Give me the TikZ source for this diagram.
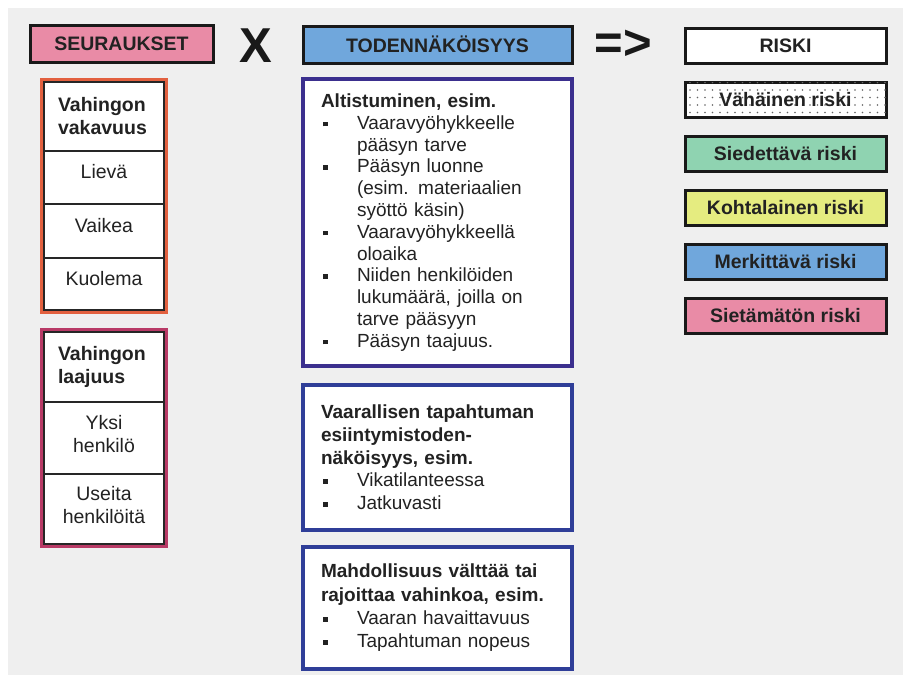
\documentclass[tikz,border=0pt]{standalone}
\usepackage{fontspec}
\setmainfont{Liberation Sans}
\usetikzlibrary{positioning, fit, patterns.meta}
\definecolor{pagegray}{HTML}{EFEFEF}
\definecolor{pinkfill}{HTML}{E98BA6}
\definecolor{bluefill}{HTML}{70A7DC}
\definecolor{greenfill}{HTML}{8FD3B1}
\definecolor{yellowfill}{HTML}{E5EC80}
\definecolor{orangestroke}{HTML}{E2603F}
\definecolor{magentastroke}{HTML}{B83A66}
\definecolor{indigostroke}{HTML}{3B2F8E}
\definecolor{navystroke}{HTML}{2F3E98}
\definecolor{inktext}{HTML}{222222}

\newcommand{\itembul}{\makebox[36pt][l]{\hspace{2pt}\rule[3pt]{4.5pt}{4.5pt}}}
\newcommand{\itemcont}{\hspace*{36pt}}

\begin{document}
\begin{tikzpicture}[
          x=1pt, y=-1pt,
          % 1. Otsikkolaatikot
          header/.style={
              rectangle,
              draw=black!90,
              line width=3pt,
              font=\bfseries\fontsize{19.5}{22}\selectfont,
              text=inktext,
              minimum height=37pt,
              inner sep=0pt,
              outer sep=0pt
          },
          riskbox/.style={header, minimum width=201pt, minimum height=35pt},
          % 2. Vasemman sarakkeen solut
          cell/.style={rectangle, draw=black!85, line width=1.6pt, fill=white,
              minimum width=120.5pt, inner sep=0pt, outer sep=0pt, text depth=8pt,
              font=\fontsize{19.5}{23}\selectfont, text=inktext, align=center},
          onecell/.style={cell, text depth=12pt},
          headcell/.style={cell, font=\bfseries\fontsize{19.5}{23}\selectfont,
              text depth=, text width=92pt, inner xsep=14.25pt, align=left},
          outline/.style={draw=#1, line width=3pt, inner sep=2.25pt},
          % 3. Keskimmäiset tekstilaatikot
          infobox/.style={rectangle, draw=#1, line width=3.5pt, fill=white,
              outer sep=0pt, text width=233pt, inner xsep=18pt, align=left,
              font=\fontsize{19}{21.8}\selectfont, text=inktext},
          % 4. Merkit X ja =>
          sign/.style={font=\bfseries\fontsize{49}{49}\selectfont, text=black!90, inner sep=0pt}
      ]

      % === TAUSTA ===
      \fill[white] (0,0) rectangle (903,675);
      \fill[pagegray] (8,8) rectangle (903,675);
      \useasboundingbox (0,0) rectangle (903,675);

      % === YLARIVI ===
      \node[header, fill=pinkfill, minimum width=183pt] (seur) at (121.5,44) {SEURAUKSET};
      \node[sign] (times) at (256,46) {X};
      \node[header, fill=bluefill, minimum width=269pt] (tod) at (437.5,44.5) {TODENNÄKÖISYYS};
      \node[sign] (yields) at (623,45) {=>};

      % === SEURAUKSET ===
      \node[headcell, minimum height=69pt] (h1) at (104,116.5) {Vahingon\\vakavuus};
      \node[onecell, minimum height=53pt, below=0pt of h1] (c11) {Lievä};
      \node[onecell, minimum height=54pt, below=0pt of c11] (c12) {Vaikea};
      \node[onecell, minimum height=52pt, below=0pt of c12] (c13) {Kuolema};
      \node[outline=orangestroke, fit=(h1)(c13)] (box1) {};

      \node[headcell, minimum height=70pt] (h2) at (104,367) {Vahingon\\laajuus};
      \node[cell, minimum height=72pt, below=0pt of h2] (c21) {Yksi\\henkilö};
      \node[cell, minimum height=70pt, below=0pt of c21] (c22) {Useita\\henkilöitä};
      \node[outline=magentastroke, fit=(h2)(c22)] (box2) {};

      % === TODENNAKOISYYS ===
      \node[infobox=indigostroke, minimum height=287pt] (p1) at (437.5,222.5) {%
        \textbf{Altistuminen, esim.}\\
        \itembul Vaaravyöhykkeelle\\
        \itemcont pääsyn tarve\\
        \itembul Pääsyn luonne\\
        \itemcont (esim. materiaalien\\
        \itemcont syöttö käsin)\\
        \itembul Vaaravyöhykkeellä\\
        \itemcont oloaika\\
        \itembul Niiden henkilöiden\\
        \itemcont lukumäärä, joilla on\\
        \itemcont tarve pääsyyn\\
        \itembul Pääsyn taajuus.};

      \node[infobox=navystroke, minimum height=145pt,
            font=\fontsize{19}{22.7}\selectfont, below=19pt of p1] (p2) {%
        \textbf{Vaarallisen tapahtuman}\\
        \textbf{esiintymistoden-}\\
        \textbf{näköisyys, esim.}\\
        \itembul Vikatilanteessa\\
        \itembul Jatkuvasti};

      \node[infobox=navystroke, minimum height=122pt,
            font=\fontsize{19}{23.3}\selectfont, below=17pt of p2] (p3) {%
        \textbf{Mahdollisuus välttää tai}\\
        \textbf{rajoittaa vahinkoa, esim.}\\
        \itembul Vaaran havaittavuus\\
        \itembul Tapahtuman nopeus};

      % === RISKI ===
      \node[riskbox, fill=white] (r0) at (785.5,45.5) {RISKI};
      \node[riskbox, fill=white, below=19pt of r0,
            postaction={pattern={Dots[radius=0.9pt, distance=7.5pt]}, pattern color=black!60}] (r1) {Vähäinen riski};
      \node[riskbox, fill=greenfill, below=19pt of r1] (r2) {Siedettävä riski};
      \node[riskbox, fill=yellowfill, below=19pt of r2] (r3) {Kohtalainen riski};
      \node[riskbox, fill=bluefill, below=19pt of r3] (r4) {Merkittävä riski};
      \node[riskbox, fill=pinkfill, below=19pt of r4] (r5) {Sietämätön riski};

      \end{tikzpicture}
\end{document}
